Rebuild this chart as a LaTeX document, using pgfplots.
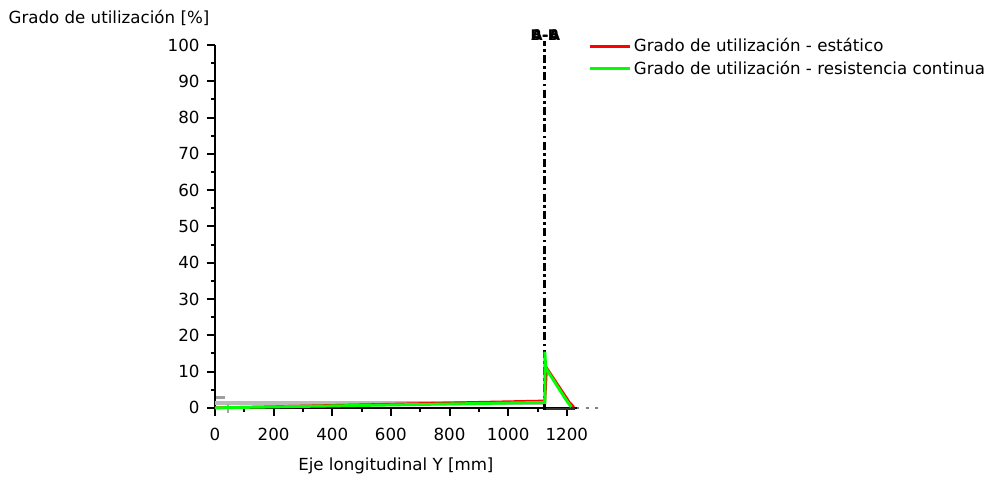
\documentclass[border=0pt]{standalone}
\usepackage{fontspec}
\setmainfont{DejaVu Sans}
\usepackage{pgfplots}
\pgfplotsset{compat=1.18}
\definecolor{lred}{RGB}{255,0,0}
\definecolor{lgreen}{RGB}{0,255,0}
\begin{document}
\begin{tikzpicture}
\begin{axis}[
  name=ax,
  scale only axis,
  width=271.5pt, height=272.25pt,
  xmin=0, xmax=1234, ymin=0, ymax=100,
  axis x line=bottom, axis y line=left,
  axis line style={-, line width=1.5pt},
  tick align=outside,
  major tick length=6pt, minor tick length=3pt,
  tick style={line width=1.5pt, black},
  xtick={0,200,...,1200}, minor xtick={100,300,...,1100},
  ytick={0,10,...,100}, minor ytick={5,15,...,95},
  font=\fontsize{12.5}{14}\selectfont,
  /pgf/number format/assume math mode=true,
  /pgf/number format/1000 sep={},
  xticklabel style={yshift=-6pt},
  yticklabel style={xshift=-2pt},
  xlabel={Eje longitudinal Y [mm]},
  xlabel style={yshift=-6pt},
  clip=false,
  legend style={draw=none, fill=none, at={(rel axis cs:0,1)}, xshift=277pt, yshift=9pt, anchor=north west,
    font=\fontsize{12.5}{14}\selectfont, row sep=1.5pt},
  legend cell align=left,
  legend image code/.code={\draw[#1, line width=2pt] (0pt,0pt) -- (22.5pt,0pt); \path (0pt,0pt) -- (30pt,0pt);},
]
% gray background curves
\addplot[gray!55, line width=3pt, forget plot] coordinates {(0,1.3) (1122,1.3)};
\addplot[gray!75, line width=2.5pt, forget plot] coordinates {(5,2.8) (35,2.8)};
\addplot[gray!70, line width=1.5pt, forget plot] coordinates {(45,1.0) (45,-1.5)};
\addplot[black!80, line width=2pt, forget plot] coordinates {(1120,-0.3) (1228,-0.3)};
\addplot[gray, line width=1pt, dash pattern=on 2pt off 5pt, forget plot] coordinates {(1234,0) (1305,0)};
% section line
\addplot[black, line width=2.2pt, dash pattern=on 6pt off 2.5pt on 2pt off 2.5pt, forget plot] coordinates {(1125,-0.5) (1125,101)};
\node[font=\bfseries\fontsize{11}{12}\selectfont, inner sep=0pt] at (axis cs:1125,102.8) {B-B};
\node[font=\bfseries\fontsize{11}{12}\selectfont, inner sep=0pt] at (axis cs:1128,102.8) {A-A};
% data
\addplot[lred, line width=2pt] coordinates {(0,0) (1120,1.9) (1125,1.9) (1131,11) (1208,1.6) (1224,0.2)};
\addlegendentry{Grado de utilización - estático}
\addplot[lgreen, line width=2.2pt] coordinates {(0,0) (1120,1.5) (1125,1.5) (1125,15.5) (1128,11) (1195,2.5) (1215,0.2)};
\addlegendentry{Grado de utilización - resistencia continua}
\node[anchor=west, font=\fontsize{12.5}{14}\selectfont, inner sep=0pt, xshift=-155pt, yshift=292.5pt] at (rel axis cs:0,0) {Grado de utilización [\%]};
\end{axis}
% page frame matching the reference proportions
\path ([shift={(-161.25pt,-53.4pt)}]ax.south west) rectangle ([shift={(583.75pt,306pt)}]ax.south west);
\end{tikzpicture}
\end{document}
